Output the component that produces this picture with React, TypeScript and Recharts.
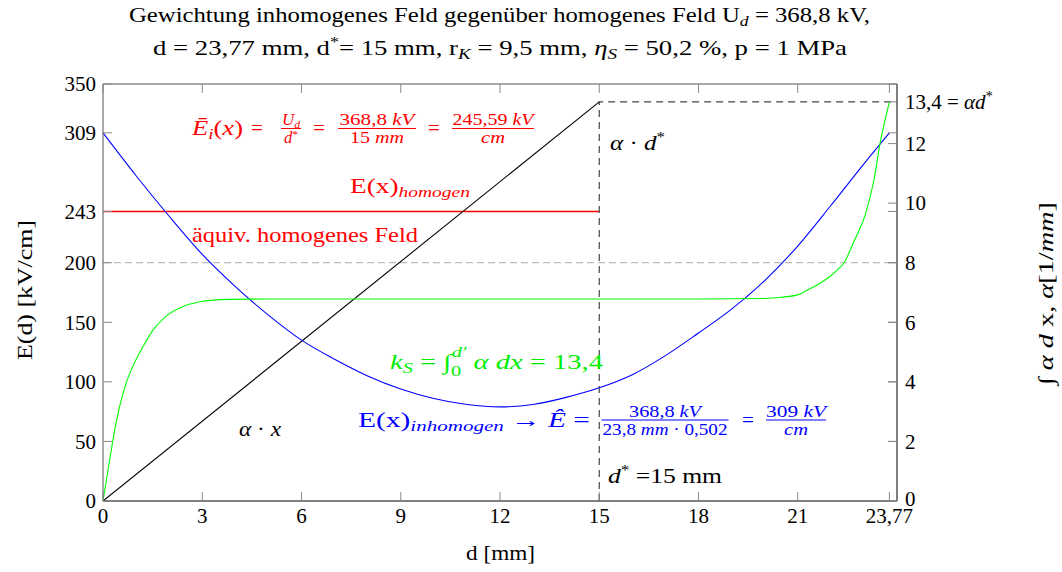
import React from 'react';
import { LineChart, Line, XAxis, YAxis, ReferenceLine } from 'recharts';

// x axis (d in mm)
const xTicks = [0, 3, 6, 9, 12, 15, 18, 21, 23.77];
const leftTicks = [0, 50, 100, 150, 200, 243, 309, 350];
const rightTicks = [0, 2, 4, 6, 8, 10, 12, 13.4];

// E(x) inhomogen [kV/cm]
const inhomX = [0, 1, 2, 3, 4, 5, 6, 7, 8, 9, 10, 11, 12, 13, 14, 15, 16, 17, 18, 19, 20, 21, 22, 23, 23.77];
const inhomE = [309, 273, 239, 207, 180, 156, 135, 119, 105, 94, 86, 81, 79, 81, 87, 95, 106, 122, 141, 161, 185, 214, 248, 283, 309];

// integral of alpha (k_S) [right axis]
const kX = [0, 0.1, 0.2, 0.35, 0.5, 0.7, 0.9, 1.2, 1.5, 1.9, 2.4, 2.9, 3.8, 5, 8, 12, 16, 19, 20, 20.5, 21, 21.25, 21.6, 21.95, 22.2, 22.4, 22.7, 23.05, 23.3, 23.5, 23.65, 23.77];
const kY = [0, 0.68, 1.36, 2.36, 3.16, 3.96, 4.52, 5.16, 5.72, 6.2, 6.52, 6.68, 6.77, 6.78, 6.78, 6.78, 6.78, 6.79, 6.8, 6.84, 6.92, 7.06, 7.26, 7.52, 7.76, 8.0, 8.72, 9.64, 10.76, 12.08, 12.84, 13.4];

// alpha * x up to d*
const alphaX = [0, 15];
const alphaY = [0, 13.4];

// homogeneous field up to d*
const homX = [0, 15];
const homE = [243, 243];

// d* marker (vertical + horizontal dashed)
const dStarX = [15, 15, 24];
const dStarY = [0, 13.4, 13.4];

const seriesList: [string, number[], number[]][] = [
  ['dstar', dStarX, dStarY],
  ['alpha', alphaX, alphaY],
  ['inhom', inhomX, inhomE],
  ['k', kX, kY],
];
const data = seriesList
  .flatMap(([key, xs, ys]) => xs.map((x, i) => ({ x, [key]: ys[i] })))
  .sort((a, b) => a.x - b.x);
const homSegment = homX.map((x, i) => ({ x, y: homE[i] }));

const W = 1062;
const H = 572;
const PL = 103, PR = 897, PT = 84, PB = 501;
const PW = PR - PL;
const PH = PB - PT;
const AXW = 60;
const AXH = 30;
const margin = { top: PT, left: PL - AXW, right: W - PR - AXW, bottom: H - PB - AXH };

const serif = "'Liberation Serif', 'DejaVu Serif', serif";
const FS = 21;
const SUB = 15;
const FR = 16;
const ADJ = 'spacingAndGlyphs';
const fmt = (v: number) => String(v).replace('.', ',');

const BottomTick = (p: any) => {
  const { x, y, payload } = p;
  return (
    <g>
      <line x1={x} x2={x} y1={y} y2={y - 9} stroke="#888" />
      <line x1={x} x2={x} y1={y - PH} y2={y - PH + 9} stroke="#888" />
      <text x={x} y={y + 22} textAnchor="middle" fontSize={FS} fontFamily={serif} fill="#000">
        {fmt(payload.value)}
      </text>
    </g>
  );
};

const LeftTick = (p: any) => {
  const { x, y, payload } = p;
  return (
    <g>
      <line x1={x} x2={x + 9} y1={y} y2={y} stroke="#888" />
      <line x1={x + PW} x2={x + PW - 9} y1={y} y2={y} stroke="#888" />
      <text x={x - 7} y={y} dy="0.35em" textAnchor="end" fontSize={FS} fontFamily={serif} fill="#000">
        {fmt(payload.value)}
      </text>
    </g>
  );
};

const RightTick = (p: any) => {
  const { x, y, payload } = p;
  const v = payload.value;
  return (
    <g>
      <line x1={x} x2={x - 9} y1={y} y2={y} stroke="#888" />
      <text x={x + 8} y={v === 0 ? y - 2 : y} dy="0.35em" textAnchor="start" fontSize={FS} fontFamily={serif} fill="#000">
        {v === 13.4 ? (
          <>
            13,4 = <tspan fontStyle="italic">αd</tspan>
            <tspan fontSize={14} dy={-8}>*</tspan>
          </>
        ) : (
          fmt(v)
        )}
      </text>
    </g>
  );
};

const Frac = ({ cx, y, w, color, num, den, nl, dl }: any) => (
  <g fill={color} fontSize={FR} fontFamily={serif}>
    <text x={cx - nl / 2} y={y - 3.5} textLength={nl} lengthAdjust={ADJ}>{num}</text>
    <line x1={cx - w / 2} x2={cx + w / 2} y1={y} y2={y} stroke={color} strokeWidth={1} />
    <text x={cx - dl / 2} y={y + 14.5} textLength={dl} lengthAdjust={ADJ}>{den}</text>
  </g>
);

const I = ({ children }: any) => <tspan fontStyle="italic">{children}</tspan>;

function Annotations() {
  const red = '#ff0000';
  const blue = '#0000ff';
  const green = '#00ee00';
  return (
    <svg width={W} height={H} style={{ position: 'absolute', left: 0, top: 0, pointerEvents: 'none' }} fontFamily={serif}>
      {/* title */}
      <text x={129} y={22} fontSize={FS} textLength={741} lengthAdjust={ADJ}>
        Gewichtung inhomogenes Feld gegenüber homogenes Feld U
        <tspan fontSize={SUB} fontStyle="italic" dy={4}>d</tspan>
        <tspan dy={-4}> = 368,8 kV,</tspan>
      </text>
      <text x={153} y={55} fontSize={FS} textLength={694} lengthAdjust={ADJ}>
        d = 23,77 mm, d<tspan fontSize={14} dy={-8}>*</tspan>
        <tspan dy={8}>= 15 mm, r</tspan>
        <tspan fontSize={SUB} fontStyle="italic" dy={4}>K</tspan>
        <tspan dy={-4}> = 9,5 mm, </tspan>
        <tspan fontStyle="italic">η</tspan>
        <tspan fontSize={SUB} fontStyle="italic" dy={4}>S</tspan>
        <tspan dy={-4}> = 50,2 %, p = 1 MPa</tspan>
      </text>

      {/* axis labels */}
      <text x={466} y={560} fontSize={FS} textLength={69} lengthAdjust={ADJ}>d [mm]</text>
      <text transform="translate(32,360) rotate(-90)" fontSize={FS} textLength={140} lengthAdjust={ADJ}>E(d) [kV/cm]</text>
      <text transform="translate(1053,385) rotate(-90)" fontSize={FS} textLength={183} lengthAdjust={ADJ}>
        ∫ <I>α</I> <I>d</I> x, <I>α</I>[1/<I>mm</I>]
      </text>

      {/* homogeneous field formula */}
      <g fill={red} fontSize={FS}>
        <text x={192} y={135} textLength={51} lengthAdjust={ADJ}>
          <I>Ē</I>
          <tspan fontSize={SUB} fontStyle="italic" dy={4}>i</tspan>
          <tspan dy={-4}>(</tspan>
          <I>x</I>)
        </text>
        <text x={257} y={135} textAnchor="middle">=</text>
        <text x={319} y={135} textAnchor="middle">=</text>
        <text x={434} y={135} textAnchor="middle">=</text>
      </g>
      <Frac cx={291} y={128.5} w={20} nl={18} dl={14} color={red}
        num={<><I>U</I><tspan fontSize={11} fontStyle="italic" dy={3}>d</tspan></>}
        den={<><I>d</I><tspan fontSize={11} dy={-5}>*</tspan></>} />
      <Frac cx={377} y={128.5} w={78} nl={75} dl={54} color={red}
        num={<>368,8 <I>kV</I></>} den={<>15 <I>mm</I></>} />
      <Frac cx={493} y={128.5} w={82} nl={81} dl={24} color={red}
        num={<>245,59 <I>kV</I></>} den={<I>cm</I>} />

      <text x={350} y={193} fill={red} fontSize={FS} textLength={120} lengthAdjust={ADJ}>
        E(x)<tspan fontSize={SUB} fontStyle="italic" dy={4}>homogen</tspan>
      </text>
      <text x={192} y={242} fill={red} fontSize={FS} textLength={226} lengthAdjust={ADJ}>äquiv. homogenes Feld</text>

      {/* alpha d* */}
      <text x={610} y={150} fontSize={FS} textLength={55} lengthAdjust={ADJ}>
        <I>α</I> · <I>d</I><tspan fontSize={14} dy={-8}>*</tspan>
      </text>

      {/* k_S */}
      <text x={390} y={369} fill={green} fontSize={FS} textLength={213} lengthAdjust={ADJ}>
        <I>k</I>
        <tspan fontSize={SUB} fontStyle="italic" dy={4}>S</tspan>
        <tspan dy={-4}> = ∫</tspan>
        <tspan fontSize={SUB} dy={7}>0</tspan>
        <tspan fontSize={SUB} fontStyle="italic" dy={-19} dx={-7}>d′</tspan>
        <tspan dy={12}> </tspan>
        <I>α dx</I> = 13,4
      </text>

      <text x={239} y={436} fontSize={FS} textLength={42} lengthAdjust={ADJ}>
        <I>α</I> · <I>x</I>
      </text>

      {/* inhomogeneous */}
      <g fill={blue} fontSize={FS}>
        <text x={358} y={427} textLength={232} lengthAdjust={ADJ}>
          E(x)<tspan fontSize={SUB} fontStyle="italic" dy={4}>inhomogen</tspan>
          <tspan dy={-4}> → </tspan>
          <I>Ê</I> =
        </text>
        <text x={748} y={427} textAnchor="middle">=</text>
      </g>
      <Frac cx={665} y={420} w={127} nl={72} dl={125} color={blue}
        num={<>368,8 <I>kV</I></>} den={<>23,8 <I>mm</I> · 0,502</>} />
      <Frac cx={796} y={420} w={60} nl={60} dl={24} color={blue}
        num={<>309 <I>kV</I></>} den={<I>cm</I>} />

      <text x={608} y={483} fontSize={FS} textLength={114} lengthAdjust={ADJ}>
        <I>d</I><tspan fontSize={14} dy={-8}>*</tspan>
        <tspan dy={8}> =15 mm</tspan>
      </text>
    </svg>
  );
}

export default function App() {
  return (
    <div style={{ position: 'absolute', left: 0, top: 0, width: W, height: H, background: '#fff' }}>
      <LineChart width={W} height={H} margin={margin} data={data}>
        <XAxis xAxisId="b" type="number" dataKey="x" domain={[0, 24]} ticks={xTicks} interval={0}
          height={AXH} tickSize={0} tickMargin={0} tickLine={false} axisLine={{ stroke: '#000' }}
          tick={(p: any) => <BottomTick {...p} />} allowDataOverflow />
        <YAxis yAxisId="l" type="number" domain={[0, 350]} ticks={leftTicks} interval={0}
          width={AXW} tickSize={0} tickMargin={0} tickLine={false} axisLine={{ stroke: '#555' }}
          tick={(p: any) => <LeftTick {...p} />} allowDataOverflow />
        <YAxis yAxisId="r" orientation="right" type="number" domain={[0, 14]} ticks={rightTicks} interval={0}
          width={AXW} tickSize={0} tickMargin={0} tickLine={false} axisLine={{ stroke: '#000' }}
          tick={(p: any) => <RightTick {...p} />} allowDataOverflow />

        <ReferenceLine xAxisId="b" yAxisId="l" y={350} stroke="#555" />
        <ReferenceLine xAxisId="b" yAxisId="l" y={200} stroke="#aaa" strokeDasharray="7 4" />
        <ReferenceLine xAxisId="b" yAxisId="l" segment={homSegment} stroke="#ff0000" strokeWidth={1.6} />

        <Line xAxisId="b" yAxisId="r" dataKey="dstar" type="linear" connectNulls
          stroke="#444" strokeWidth={1.2} strokeDasharray="7 5" dot={false} activeDot={false} isAnimationActive={false} />
        <Line xAxisId="b" yAxisId="r" dataKey="alpha" type="linear" connectNulls
          stroke="#000" strokeWidth={1.1} dot={false} activeDot={false} isAnimationActive={false} />
        <Line xAxisId="b" yAxisId="l" dataKey="inhom" type="monotone" connectNulls
          stroke="#0000ff" strokeWidth={1.1} dot={false} activeDot={false} isAnimationActive={false} />
        <Line xAxisId="b" yAxisId="r" dataKey="k" type="monotone" connectNulls
          stroke="#00ff00" strokeWidth={1.1} dot={false} activeDot={false} isAnimationActive={false} />
      </LineChart>
      <Annotations />
    </div>
  );
}
